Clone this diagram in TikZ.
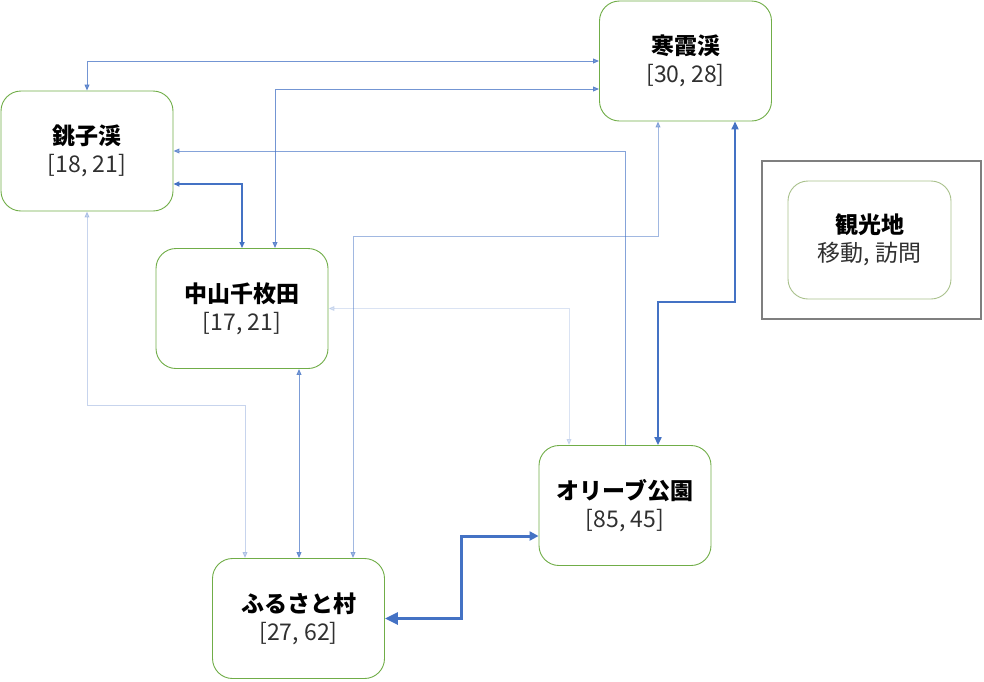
\documentclass[tikz,border=0pt]{standalone}
\usepackage{fontspec}
\setmainfont{Noto Sans CJK JP}
\usetikzlibrary{arrows.meta}
\definecolor{nodegreen}{HTML}{70AD47}
\definecolor{leggreen}{HTML}{A9C18C}
\definecolor{linkblue}{HTML}{4472C4}
\definecolor{numc}{HTML}{303030}
\definecolor{frame}{HTML}{7F7F7F}
\tikzset{
  place/.style={draw=nodegreen, line width=0.9pt, rounded corners=20pt,
    minimum width=172pt, minimum height=120pt, inner sep=0pt, align=center,
    font=\fontsize{23}{28}\selectfont, fill=white},
  legplace/.style={place, draw=leggreen, minimum width=163pt, minimum height=118pt},
  link/.style={draw=linkblue, line width=0.8pt, rounded corners=0pt,
    {Triangle[length=6pt,width=5pt]}-{Triangle[length=6pt,width=5pt]}},
  onelink/.style={draw=linkblue, line width=0.8pt,
    -{Triangle[length=6pt,width=5pt]}},
}
\newcommand{\placetext}[2]{{\bfseries #1}\\\textcolor{numc}{#2}}
\begin{document}
\begin{tikzpicture}[x=1pt,y=-1pt]
\useasboundingbox (0,0) rectangle (984,681);
% legend frame
\draw[frame, line width=1.5pt] (762,161) rectangle (981,319);
\node[legplace] (leg) at (869.5,240) {\placetext{観光地}{移動, 訪問}};
% places
\node[place] (kan) at (685.5,61) {\placetext{寒霞渓}{[30, 28]}};
\node[place] (cho) at (87,151) {\placetext{銚子渓}{[18, 21]}};
\node[place] (naka) at (242,308.5) {\placetext{中山千枚田}{[17, 21]}};
\node[place] (oli) at (625,505.5) {\placetext{オリーブ公園}{[85, 45]}};
\node[place] (furu) at (298.5,618.5) {\placetext{ふるさと村}{[27, 62]}};
% connectors
\draw[link, opacity=0.75] (cho.north) |- (kan.west);
\draw[link, opacity=0.75] ([xshift=33pt]naka.north) |- ([yshift=-28pt]kan.west);
\draw[onelink, opacity=0.65] (oli.north) |- (cho.east);
\draw[link, line width=1.5pt] ([yshift=-33pt]cho.east) -| (naka.north);
\draw[link, opacity=0.5] ([xshift=-27.5pt]kan.south) -- ++(0,115) -| ([xshift=54.5pt]furu.north);
\draw[link, line width=2pt, {Triangle[length=8pt,width=7pt]}-{Triangle[length=8pt,width=7pt]}]
  ([xshift=49.5pt]kan.south) -- ++(0,181) -| ([xshift=33pt]oli.north);
\draw[link, opacity=0.2] (naka.east) -| ([xshift=-56pt]oli.north);
\draw[link, opacity=0.3] (cho.south) -- ++(0,194) -| ([xshift=-53.5pt]furu.north);
\draw[link, opacity=0.7] ([xshift=57pt]naka.south) -- ([xshift=57pt]naka.south |- furu.north);
\draw[link, line width=3pt, {Triangle[length=13pt,width=12pt]}-{Triangle[length=9pt,width=9pt]}]
  (furu.east) -- ++(77,0) |- ([yshift=-30.5pt]oli.west);
\end{tikzpicture}
\end{document}
